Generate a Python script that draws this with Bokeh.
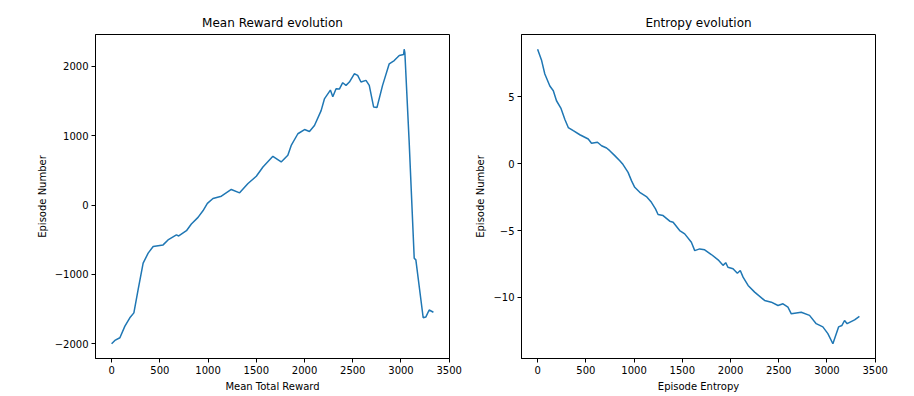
from bokeh.plotting import figure
from bokeh.layouts import row
from bokeh.models import FixedTicker, Range1d
from bokeh.embed import file_html
from bokeh.resources import INLINE

# Left panel: Mean reward
reward_x = [0, 34, 86, 138, 189, 231, 275, 327, 379, 431, 534, 585, 672, 696, 776,
            827, 896, 947, 993, 1051, 1138, 1241, 1327, 1414, 1500, 1569, 1672, 1758,
            1827, 1862, 1931, 2000, 2051, 2103, 2172, 2206, 2268, 2293, 2327, 2361,
            2396, 2430, 2465, 2516, 2551, 2585, 2637, 2671, 2716, 2751, 2809, 2878,
            2930, 2982, 3027, 3033, 3040, 3084, 3137, 3154, 3230, 3257, 3292, 3336]
reward_y = [-2000, -1952, -1913, -1746, -1626, -1554, -1220, -837, -693, -598, -574,
            -502, -430, -445, -369, -273, -177, -82, 24, 96, 129, 225, 177, 311, 416,
            550, 703, 622, 718, 861, 1029, 1090, 1062, 1148, 1363, 1531, 1659, 1563,
            1678, 1674, 1765, 1727, 1775, 1894, 1870, 1775, 1799, 1727, 1416, 1407,
            1727, 2038, 2085, 2157, 2171, 2248, 2200, 933, -765, -790, -1625, -1615,
            -1513, -1545]

# Right panel: Entropy
entropy_x = [0, 42, 75, 127, 163, 196, 241, 283, 318, 370, 438, 525, 559, 621, 663,
             715, 748, 800, 852, 886, 938, 973, 1007, 1059, 1128, 1180, 1222, 1249,
             1301, 1370, 1405, 1473, 1525, 1594, 1629, 1680, 1732, 1801, 1871, 1922,
             1950, 1973, 2026, 2071, 2101, 2130, 2182, 2250, 2353, 2423, 2492, 2544,
             2595, 2630, 2733, 2819, 2888, 2957, 3009, 3061, 3120, 3155, 3182, 3209,
             3286, 3336]
entropy_y = [8.55, 7.7, 6.7, 5.8, 5.45, 4.7, 4.15, 3.3, 2.7, 2.46, 2.16, 1.84, 1.52,
             1.6, 1.34, 1.17, 0.97, 0.6, 0.22, -0.07, -0.65, -1.27, -1.77, -2.14,
             -2.46, -2.89, -3.38, -3.8, -3.88, -4.3, -4.38, -5.0, -5.25, -5.87, -6.5,
             -6.37, -6.44, -6.79, -7.19, -7.6, -7.4, -7.74, -7.86, -8.19, -7.99, -8.48,
             -9.1, -9.6, -10.22, -10.35, -10.6, -10.47, -10.72, -11.22, -11.1, -11.34,
             -11.96, -12.2, -12.7, -13.46, -12.2, -12.09, -11.72, -11.96, -11.67, -11.42]

x_ticks = [0, 500, 1000, 1500, 2000, 2500, 3000, 3500]
reward_ticks = [-2000, -1000, 0, 1000, 2000]
entropy_ticks = [-10, -5, 0, 5]

FONT = "DejaVu Sans"
LINE = "#1f77b4"


def minus(v):
    return str(v).replace("-", "\u2212")


def style(p, xt, yt, xlabel, ylabel):
    p.xgrid.visible = False
    p.ygrid.visible = False
    p.outline_line_color = "black"
    p.outline_line_width = 1
    p.outline_line_alpha = 1
    p.title.text_font = FONT
    p.title.text_font_size = "12px"
    p.title.text_font_style = "normal"
    p.title.align = "center"
    p.title.text_color = "black"
    for ax, ticks, lab in ((p.xaxis[0], xt, xlabel), (p.yaxis[0], yt, ylabel)):
        ax.ticker = FixedTicker(ticks=ticks)
        ax.major_label_overrides = {t: minus(t) for t in ticks}
        ax.axis_label = lab
        ax.axis_label_text_font = FONT
        ax.axis_label_text_font_size = "10px"
        ax.axis_label_text_font_style = "normal"
        ax.axis_label_text_color = "black"
        ax.major_label_text_font = FONT
        ax.major_label_text_font_size = "10px"
        ax.major_label_text_color = "black"
        ax.axis_line_color = "black"
        ax.major_tick_line_color = "black"
        ax.minor_tick_line_color = None
        ax.major_tick_in = 0
        ax.major_tick_out = 4
        ax.major_label_standoff = 3
        ax.axis_label_standoff = 4


def span(vals, m=0.05):
    lo, hi = min(vals), max(vals)
    d = (hi - lo) * m
    return lo - d, hi + d


H = 394
rx0, rx1 = span(reward_x)
ry0, ry1 = span(reward_y)
p1 = figure(width=470, height=H, title="Mean Reward evolution",
            x_range=Range1d(rx0, rx1), y_range=Range1d(ry0, ry1),
            output_backend="svg", toolbar_location=None,
            min_border_left=95, min_border_right=21, min_border_top=34,
            min_border_bottom=H - 360)
p1.line(reward_x, reward_y, line_color=LINE, line_width=1.5)
style(p1, x_ticks, reward_ticks, "Mean Total Reward", "Episode Number")

ex0, ex1 = span(entropy_x)
ey0, ey1 = span(entropy_y)
p2 = figure(width=436, height=H, title="Entropy evolution",
            x_range=Range1d(ex0, ex1), y_range=Range1d(ey0, ey1),
            output_backend="svg", toolbar_location=None,
            min_border_left=51, min_border_right=31, min_border_top=34,
            min_border_bottom=H - 360)
p2.line(entropy_x, entropy_y, line_color=LINE, line_width=1.5)
style(p2, x_ticks, entropy_ticks, "Episode Entropy", "Episode Number")

layout = row(p1, p2)
open("out.html", "w").write(file_html(layout, INLINE))
